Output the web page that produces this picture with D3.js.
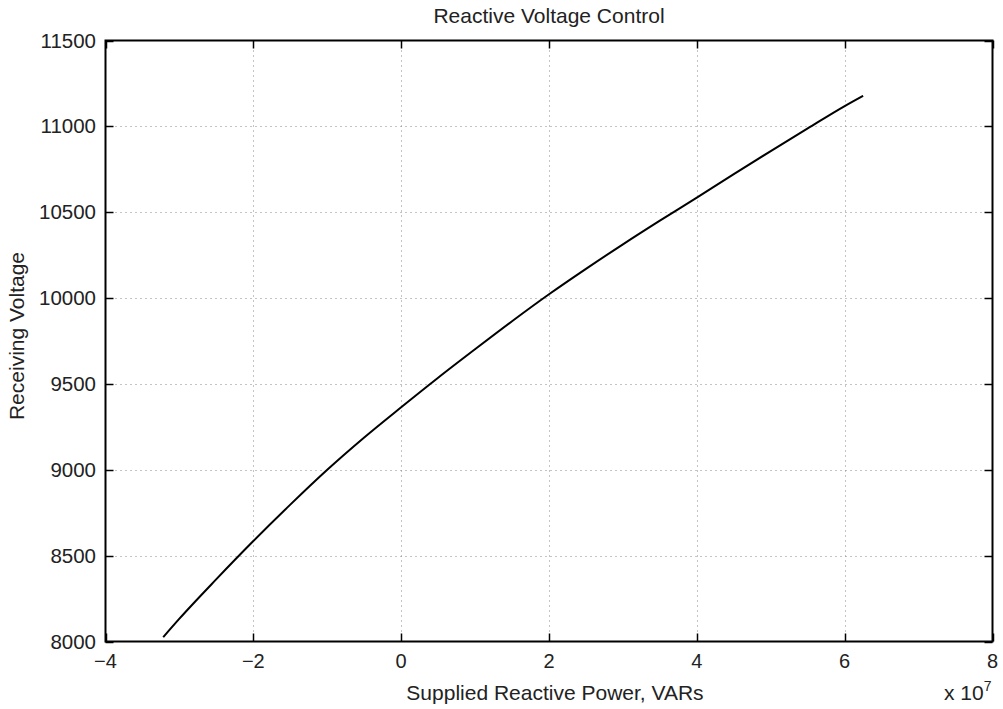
<!DOCTYPE html>
<html><head><meta charset="utf-8">
<script src="https://cdn.jsdelivr.net/npm/d3@7"></script>
<style>body{margin:0;background:#fff}svg{display:block}text{font-family:"Liberation Sans",Arial,sans-serif;fill:#222}</style>
</head><body>
<script>
const qValues = [-3.22, -3, -2.5, -2, -1.5, -1, -0.5, 0, 0.5, 1, 1.5, 2, 2.5, 3, 3.5, 4, 4.5, 5, 5.5, 6, 6.25];
const vValues = [8025, 8133, 8363, 8585, 8797, 9000, 9188, 9364, 9536, 9702, 9865, 10022, 10170, 10313, 10451, 10585, 10722, 10856, 10988, 11118, 11178];
const xTicks = [-4, -2, 0, 2, 4, 6, 8];
const yTicks = [8000, 8500, 9000, 9500, 10000, 10500, 11000, 11500];

const W = 1003, H = 709;
const L = 105.5, R = 992.5, T = 40.5, B = 641.5;
const svg = d3.select("body").append("svg").attr("width", W).attr("height", H);
const x = d3.scaleLinear().domain([-4, 8]).range([L, R]);
const y = d3.scaleLinear().domain([8000, 11500]).range([B, T]);

// grid
const g = svg.append("g");
g.selectAll(".gx").data(xTicks.slice(1, -1)).join("line")
  .attr("x1", d => Math.round(x(d)) + 0.5).attr("x2", d => Math.round(x(d)) + 0.5)
  .attr("y1", T).attr("y2", B).attr("stroke", "#888").attr("stroke-width", 1).attr("stroke-dasharray", "1,4");
g.selectAll(".gy").data(yTicks.slice(1, -1)).join("line")
  .attr("y1", d => Math.round(y(d)) + 0.5).attr("y2", d => Math.round(y(d)) + 0.5)
  .attr("x1", L).attr("x2", R).attr("stroke", "#888").attr("stroke-width", 1).attr("stroke-dasharray", "1,4");

// ticks (inward, all sides)
const tl = 8;
xTicks.forEach(d => {
  const px = Math.round(x(d)) + 0.5;
  svg.append("line").attr("x1", px).attr("x2", px).attr("y1", B).attr("y2", B - tl).attr("stroke", "#000").attr("stroke-width", 1.5);
  svg.append("line").attr("x1", px).attr("x2", px).attr("y1", T).attr("y2", T + tl).attr("stroke", "#000").attr("stroke-width", 1.5);
});
yTicks.forEach(d => {
  const py = Math.round(y(d)) + 0.5;
  svg.append("line").attr("y1", py).attr("y2", py).attr("x1", L).attr("x2", L + tl).attr("stroke", "#000").attr("stroke-width", 1.5);
  svg.append("line").attr("y1", py).attr("y2", py).attr("x1", R).attr("x2", R - tl).attr("stroke", "#000").attr("stroke-width", 1.5);
});

// frame
svg.append("rect").attr("x", L).attr("y", T).attr("width", R - L).attr("height", B - T)
  .attr("fill", "none").attr("stroke", "#000").attr("stroke-width", 2);

// tick labels
svg.selectAll(".xl").data(xTicks).join("text")
  .attr("x", d => x(d)).attr("y", 668).attr("text-anchor", "middle").attr("font-size", 20)
  .text(d => d < 0 ? "\u2212" + Math.abs(d) : d);
svg.selectAll(".yl").data(yTicks).join("text")
  .attr("x", 96).attr("y", d => y(d) + 7).attr("text-anchor", "end").attr("font-size", 20.5)
  .text(d => d);

// curve
const pts = qValues.map((q, i) => [q, vValues[i]]);
svg.append("path").datum(pts)
  .attr("d", d3.line().x(d => x(d[0])).y(d => y(d[1])).curve(d3.curveMonotoneX))
  .attr("fill", "none").attr("stroke", "#000").attr("stroke-width", 2);

// titles
svg.append("text").attr("x", 549).attr("y", 23).attr("text-anchor", "middle").attr("font-size", 21).text("Reactive Voltage Control");
svg.append("text").attr("x", 555).attr("y", 700).attr("text-anchor", "middle").attr("font-size", 21).text("Supplied Reactive Power, VARs");
svg.append("text").attr("transform", "translate(24,336) rotate(-90)").attr("text-anchor", "middle").attr("font-size", 21).text("Receiving Voltage");
const ex = svg.append("text").attr("x", 944).attr("y", 700).attr("font-size", 21);
ex.append("tspan").text("x 10");
ex.append("tspan").attr("dy", -9).attr("font-size", 14).text("7");
</script>
</body></html>
